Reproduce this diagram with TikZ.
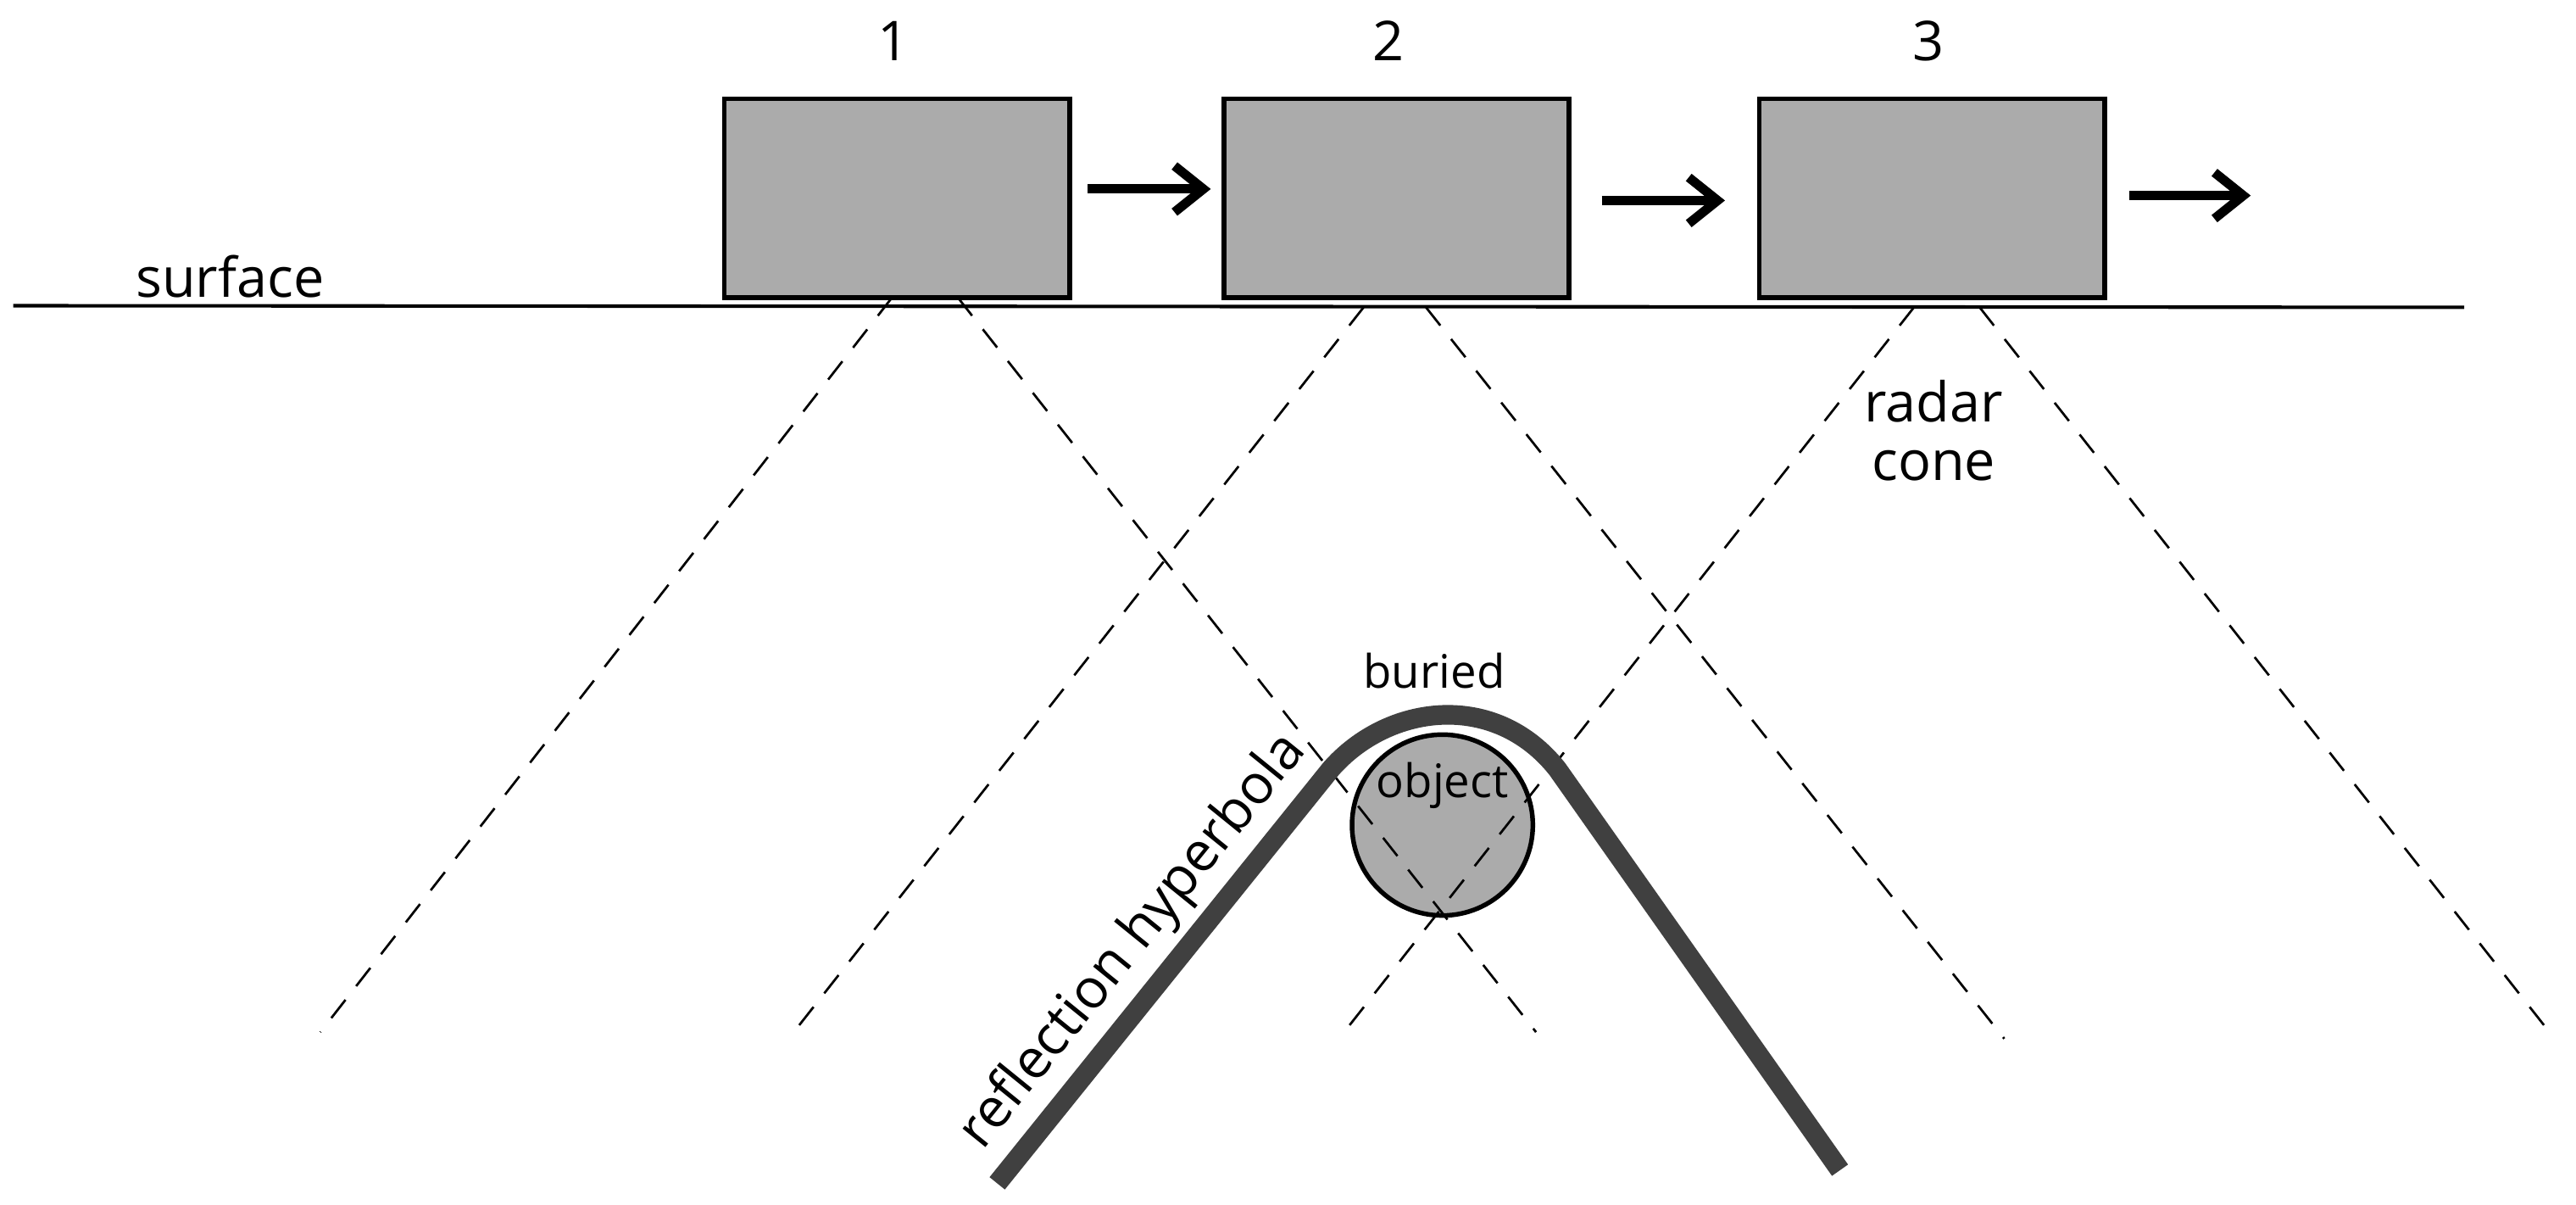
\documentclass[tikz,border=0pt]{standalone}
\usepackage{fontspec}
\setmainfont{Open Sans}
\usetikzlibrary{arrows.meta}
\tikzstyle{cart} = [draw=black, thick, rectangle, fill=black!33, minimum width=2.1cm, minimum height=1.21cm, inner sep=0pt]
\tikzstyle{cone} = [draw=black, thin, dash pattern=on 4pt off 3pt]
\tikzstyle{move} = [draw=black, line width=1.6pt, -{Straight Barb[length=5pt,width=8pt]}]
\tikzstyle{lbl} = [font=\fontsize{9.5}{11}\selectfont, inner sep=1pt]

\begin{document}
\begin{tikzpicture}[x=0.01cm, y=-0.01cm]
\useasboundingbox (0,0) rectangle (1568,733);
% surface
\coordinate (sl) at (8,186);
\coordinate (sr) at (1500,187);
\draw[semithick] (sl) -- (sr);
\node[lbl] (surf) at (140,168) {surface};
% radar carts
\node[cart] (c1) at (546,120.5) {};
\node[cart] (c2) at (850,120.5) {};
\node[cart] (c3) at (1176,120.5) {};
\node[lbl] (n1) at (544,25) {1};
\node[lbl] (n2) at (845,25) {2};
\node[lbl] (n3) at (1174,25) {3};
\coordinate (a1s) at (662,115); \coordinate (a1e) at (737,115);
\coordinate (a2s) at (975,122); \coordinate (a2e) at (1050,122);
\coordinate (a3s) at (1296,119); \coordinate (a3e) at (1370,119);
\foreach \i in {1,2,3}
  \draw[move] (a\i s) -- (a\i e);
% radar cones
\coordinate (p1a) at (543,181); \coordinate (q1a) at (195,628);
\coordinate (p1b) at (583,181); \coordinate (q1b) at (935,628);
\coordinate (p2a) at (830,187); \coordinate (q2a) at (480,632);
\coordinate (p2b) at (868,187); \coordinate (q2b) at (1220,632);
\coordinate (p3a) at (1165,187); \coordinate (q3a) at (815,632);
\coordinate (p3b) at (1205,187); \coordinate (q3b) at (1555,632);
\node[lbl, align=center] (rc) at (1177,262) {radar\\[-1pt]cone};
% buried object
\node[draw=black, thick, circle, fill=black!33, minimum size=1.1cm, inner sep=0pt] (obj) at (878,502) {};
\node[lbl, font=\fontsize{8}{10}\selectfont] (objt) at (878,478) {object};
\node[lbl, font=\fontsize{8}{10}\selectfont] (bur) at (873,408) {buried};
\foreach \i in {1,2,3} {
  \draw[cone] (p\i a) -- (q\i a);
  \draw[cone] (p\i b) -- (q\i b);
}
% reflection hyperbola
\coordinate (h1) at (607,720);
\coordinate (h2) at (1120,712);
\draw[line width=3.4pt, draw=black!75, line join=round] (h1) -- (810,468) .. controls (845,428) and (910,420) .. (948,468) -- (h2);
\node[lbl, rotate=51] (hyp) at (690,573) {reflection hyperbola};
\end{tikzpicture}
\end{document}
